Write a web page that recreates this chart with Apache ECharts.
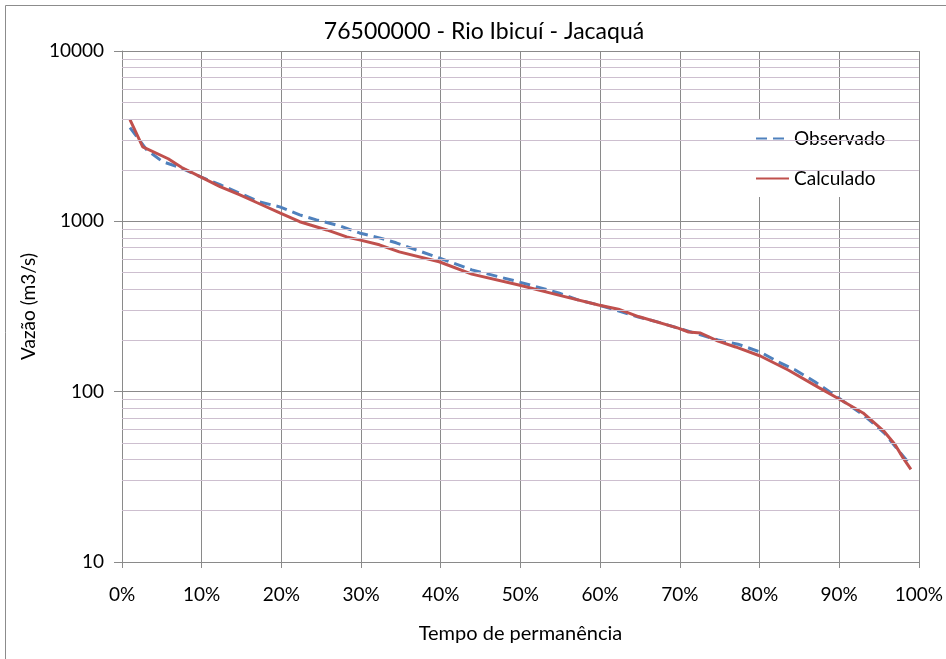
<!DOCTYPE html>
<html>
<head>
<meta charset="utf-8">
<script src="https://cdn.jsdelivr.net/npm/echarts@6/dist/echarts.min.js"></script>
<style>
  html, body { margin: 0; padding: 0; background: #fff; }
  #chart { width: 946px; height: 659px; }
</style>
</head>
<body>
<div id="chart"></div>
<script>
// Curva de permanência - posto 76500000, Rio Ibicuí em Jacaquá
const chartTitle = '76500000 - Rio Ibicuí - Jacaquá';

// Tempo de permanência (%) e vazão (m3/s) - série observada
const obsPerm = [1, 3.1, 5.1, 7.3, 9.8, 12.3, 17.3, 19.8, 22.3, 24.4, 27.3, 29.8, 32.3, 34.4, 39.8, 43.9, 49.8, 54.8, 57.3, 59.8, 64.8, 67.3, 69.8, 74.8, 77.3, 80.1, 82.4, 84.5, 87, 89.9, 93.2, 95.7, 97.4, 99];
const obsVazao = [3550, 2630, 2240, 2070, 1830, 1640, 1300, 1216, 1091, 1020, 942, 855, 800, 748, 609, 519, 441, 380, 345, 323, 274, 256, 236, 201, 190, 171, 149, 134, 114, 92, 72, 57, 45.3, 37];

// Série calculada pelo modelo
const calPerm = [1, 2.6, 5.8, 7.5, 9.8, 12.3, 14.8, 16.9, 19.8, 22.3, 25.7, 28.2, 29.8, 32.3, 34.8, 39.8, 43.9, 49.8, 54.8, 59.8, 62.3, 64.8, 69.8, 71.1, 72.6, 74.8, 77, 80.1, 83.6, 87.4, 90.1, 93, 95.7, 97, 98, 99];
const calVazao = [3950, 2740, 2330, 2070, 1830, 1600, 1430, 1290, 1120, 995, 890, 810, 778, 728, 662, 579, 490, 423, 369, 323, 305, 276, 236, 224, 221, 198, 183, 162, 134, 106, 90, 75, 58, 49, 41, 35];

// Linhas de grade secundárias do eixo logarítmico
const minorGrid = [20, 30, 40, 50, 60, 70, 80, 90, 200, 300, 400, 500, 600, 700, 800, 900, 2000, 3000, 4000, 5000, 6000, 7000, 8000, 9000];

const seriesNames = ['Observado', 'Calculado'];
const xAxisName = 'Tempo de permanência';
const yAxisName = 'Vazão (m3/s)';

const FONT = 'Lato, "Open Sans", sans-serif';
const pairs = (xs, ys) => xs.map((x, i) => [x, ys[i]]);

const chart = echarts.init(document.getElementById('chart'), null, { renderer: 'canvas' });

chart.setOption({
  animation: false,
  backgroundColor: '#fff',
  textStyle: { fontFamily: FONT },
  graphic: [{
    type: 'rect',
    shape: { x: 5.5, y: 5.5, width: 941, height: 700 },
    style: { fill: 'none', stroke: '#8c8c8c', lineWidth: 1 },
    silent: true,
    z: -10
  }],
  title: {
    text: chartTitle,
    left: 479,
    top: 15,
    textAlign: 'center',
    textStyle: { fontFamily: FONT, fontSize: 23, fontWeight: 'normal', color: '#000' }
  },
  legend: {
    data: seriesNames,
    orient: 'vertical',
    left: 731,
    top: 120,
    backgroundColor: '#fff',
    padding: [9, 20, 9, 24],
    itemWidth: 33,
    itemHeight: 14,
    itemGap: 21,
    itemStyle: { opacity: 0 },
    textStyle: { fontFamily: FONT, fontSize: 19, color: '#000' }
  },
  grid: { left: 122, right: 25, top: 51, bottom: 97, containLabel: false },
  xAxis: {
    type: 'value',
    min: 0,
    max: 100,
    interval: 10,
    name: xAxisName,
    nameLocation: 'middle',
    nameGap: 62,
    nameTextStyle: { fontFamily: FONT, fontSize: 20, color: '#000' },
    axisLine: { show: true, lineStyle: { color: '#8a8a8a', width: 1 } },
    axisTick: { show: true, length: 6, lineStyle: { color: '#8a8a8a' } },
    axisLabel: {
      margin: 23,
      fontFamily: FONT, fontSize: 19, color: '#000',
      formatter: v => v + '%'
    },
    splitLine: { show: true, lineStyle: { color: '#8a8a8a', width: 1 } }
  },
  yAxis: {
    type: 'log',
    logBase: 10,
    min: 10,
    max: 10000,
    name: yAxisName,
    nameLocation: 'middle',
    nameGap: 80,
    nameTextStyle: { fontFamily: FONT, fontSize: 19, color: '#000' },
    axisLine: { show: true, lineStyle: { color: '#8a8a8a', width: 1 } },
    axisTick: { show: true, length: 8, lineStyle: { color: '#8a8a8a' } },
    axisLabel: {
      margin: 18,
      fontFamily: FONT, fontSize: 19, color: '#000',
      formatter: v => String(Math.round(v))
    },
    splitLine: { show: true, lineStyle: { color: '#8a8a8a', width: 1 } }
  },
  series: [
    {
      name: 'grade',
      type: 'line',
      data: [],
      silent: true,
      z: 1,
      markLine: {
        silent: true,
        symbol: ['none', 'none'],
        label: { show: false },
        lineStyle: { color: '#cdbfcf', width: 1, type: 'solid' },
        data: minorGrid.map(v => ({ yAxis: v }))
      }
    },
    {
      name: seriesNames[0],
      type: 'line',
      data: pairs(obsPerm, obsVazao),
      symbol: 'none',
      smooth: false,
      z: 3,
      lineStyle: { color: '#4f81bd', width: 3, type: [11, 6] },
      itemStyle: { color: '#4f81bd' }
    },
    {
      name: seriesNames[1],
      type: 'line',
      data: pairs(calPerm, calVazao),
      symbol: 'none',
      smooth: false,
      z: 4,
      lineStyle: { color: '#c0504d', width: 3 },
      itemStyle: { color: '#c0504d' }
    }
  ]
});
</script>
</body>
</html>
